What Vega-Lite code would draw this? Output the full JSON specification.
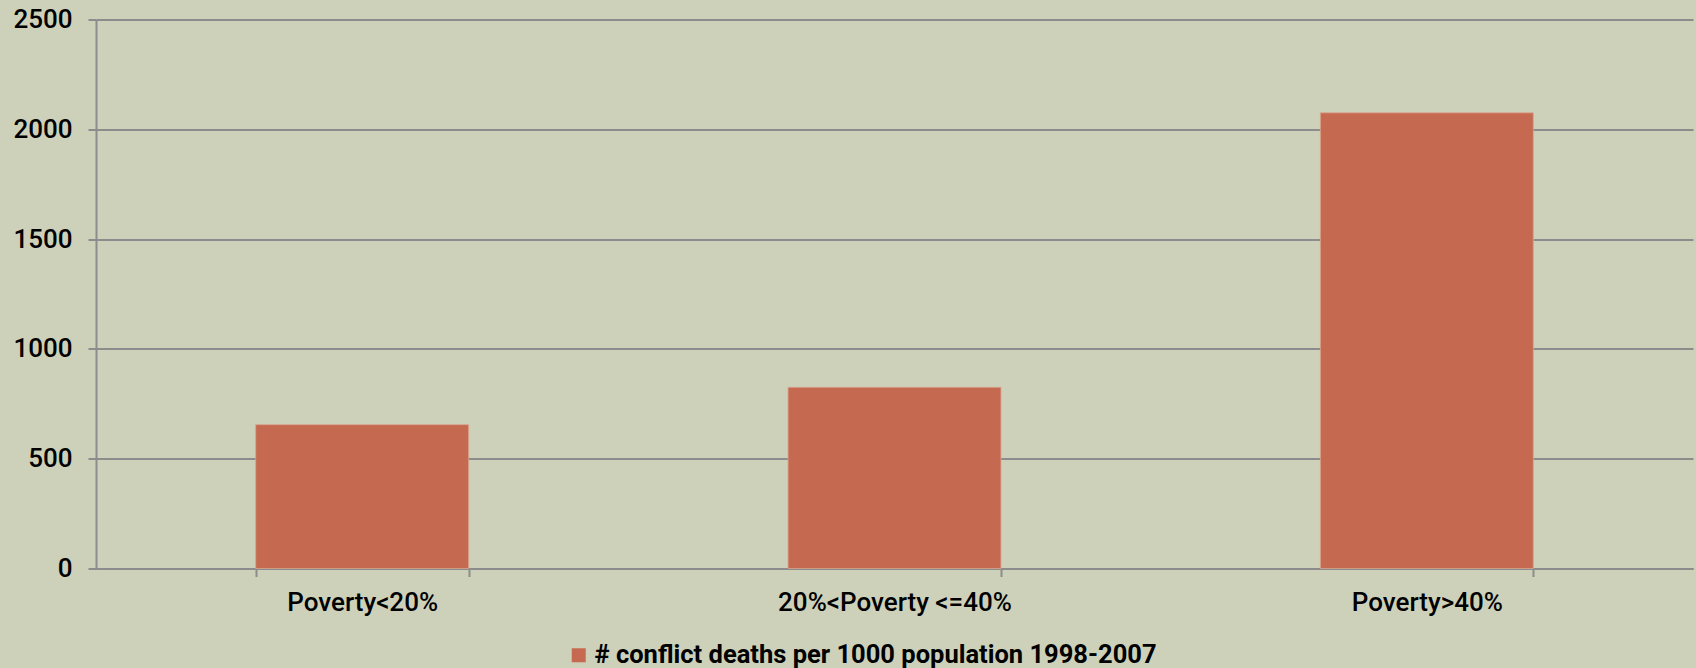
{
  "$schema": "https://vega.github.io/schema/vega-lite/v6.json",
  "description": "Conflict deaths per 1000 population by poverty band, 1998-2007.",
  "autosize": {"type": "none"},
  "width": 1597,
  "height": 549,
  "padding": {"left": 96, "top": 19.5, "right": 3, "bottom": 99.5},
  "background": "#CDD1BA",
  "data": {
    "values": [
      {"band": "Poverty<20%", "series": "# conflict deaths per 1000 population 1998-2007", "deaths": 655},
      {"band": "20%<Poverty <=40%", "series": "# conflict deaths per 1000 population 1998-2007", "deaths": 825},
      {"band": "Poverty>40%", "series": "# conflict deaths per 1000 population 1998-2007", "deaths": 2075}
    ]
  },
  "mark": {"type": "bar", "stroke": "#D9A58F", "strokeWidth": 0.8},
  "encoding": {
    "x": {
      "field": "band",
      "type": "nominal",
      "sort": null,
      "scale": {"paddingInner": 0.6, "paddingOuter": 0.3},
      "axis": {
        "title": null,
        "labelAngle": 0,
        "labelLimit": 500,
        "tickBand": "extent",
        "tickSize": 8,
        "labelPadding": 13,
        "grid": false
      }
    },
    "y": {
      "field": "deaths",
      "type": "quantitative",
      "scale": {"domain": [0, 2500], "nice": false},
      "axis": {
        "title": null,
        "values": [0, 500, 1000, 1500, 2000, 2500],
        "format": "d",
        "tickSize": 8,
        "labelPadding": 16,
        "grid": true
      }
    },
    "color": {
      "field": "series",
      "type": "nominal",
      "scale": {"range": ["#C56A50"]},
      "legend": {
        "title": null,
        "orient": "none",
        "legendX": 470,
        "legendY": 623,
        "symbolType": "square",
        "symbolSize": 196,
        "symbolStrokeWidth": 0,
        "symbolOpacity": 1,
        "labelFont": "Roboto",
        "labelFontSize": 25.5,
        "labelFontWeight": "bold",
        "labelColor": "#000000",
        "labelLimit": 900,
        "labelOffset": 3,
        "padding": 0
      }
    }
  },
  "config": {
    "view": {"stroke": null},
    "axis": {
      "domainColor": "#8C8C8C",
      "domainWidth": 2,
      "tickColor": "#8C8C8C",
      "tickWidth": 2,
      "gridColor": "#8C8C8C",
      "gridWidth": 2,
      "labelFont": "Roboto",
      "labelFontSize": 26,
      "labelFontWeight": 500,
      "labelColor": "#000000"
    }
  }
}
